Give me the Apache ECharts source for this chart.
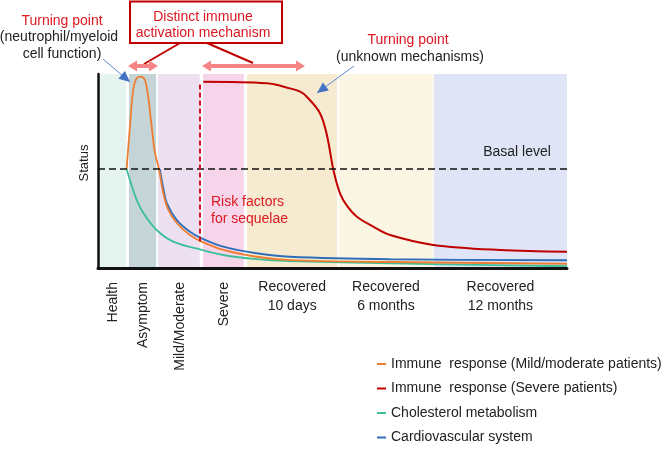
<!DOCTYPE html>
<html><head><meta charset="utf-8">
<script src="https://cdn.jsdelivr.net/npm/echarts@6.0.0/dist/echarts.min.js"></script>
<style>html,body{margin:0;padding:0;background:#fff}#c{width:661px;height:449px}</style>
</head><body><div id="c"></div>
<script>
// ---- data ----
const stageLabels = ['Health', 'Asymptom', 'Mild/Moderate', 'Severe', 'Recovered\n10 days', 'Recovered\n6 months', 'Recovered\n12 months'];
const stageStart = [0, 6.6, 12.8, 22.4, 31.8, 51.4, 71.6];
const stageEnd   = [6.0, 12.4, 21.7, 31.1, 51.0, 71.4, 100];
const basalLevel = 51;
const riskOnset = 21.8;
const seriesNames = ['Immune  response (Mild/moderate patients)', 'Immune  response (Severe patients)', 'Cholesterol metabolism', 'Cardiovascular system'];
const immuneMild = [[6.1,51],[6.8,72.7],[7.5,91.8],[8.25,97.9],[9.1,98.6],[10.0,96.9],[10.7,88.3],[11.45,72.8],[12.15,59.3],[13.0,51],[13.9,38.7],[15.0,29.9],[16.8,23.2],[19.6,17.0],[22.1,13.6],[26.7,9.3],[33.8,5.8],[40.9,4.1],[62.3,3.1],[100,2.2]];
const immuneSevere = [[22.45,96.0],[36.0,95.2],[40.9,92.6],[43.1,90.9],[44.5,88.3],[47.3,79.9],[48.8,68.6],[50.2,50.5],[51.6,38.5],[53.1,32.0],[55.2,26.4],[58.7,21.3],[62.3,17.0],[71.5,11.9],[85.7,9.3],[100,8.4]];
const cholesterol = [[6.1,51],[6.8,45.4],[8.25,35.1],[9.7,28.2],[12.5,19.6],[16.05,13.6],[22.1,9.3],[26.7,6.7],[33.8,4.6],[40.9,3.6],[62.3,2.4],[100,0.9]];
const cardiovascular = [[13.2,51],[14.0,40.2],[14.7,33.3],[16.8,24.7],[19.6,18.7],[22.1,15.3],[26.7,11.0],[33.8,7.6],[40.9,5.8],[62.3,4.5],[100,4.0]];

// ---- styles ----
const FONT = '"Liberation Sans", Arial, sans-serif';
const bandColors = ['#e5f4ef', '#c5d4d7', '#ede0f0', '#f6d5ea', '#f6ebd0', '#faf6e3', '#dfe4f6'];
const lineColors = ['#ed7d31', '#c00000', '#3cbf9b', '#2e6db8'];
const RED = '#dc1820';

const chart = echarts.init(document.getElementById('c'), null, {renderer: 'canvas'});

const bandAreas = stageStart.map((s, i) => [
  {xAxis: s, itemStyle: {color: bandColors[i]}},
  {xAxis: stageEnd[i]}
]);

function lineSeries(name, data, color, extra) {
  return Object.assign({
    name, type: 'line', data, smooth: 0.35, symbol: 'none', z: 3,
    lineStyle: {color, width: 1.8}, itemStyle: {color}
  }, extra || {});
}

chart.setOption({
  animation: false,
  grid: {left: 98, right: 94, top: 74, bottom: 181},
  xAxis: {type: 'value', min: 0, max: 100, z: 10, axisLine: {show: true, lineStyle: {color: '#111', width: 3}},
    axisTick: {show: false}, axisLabel: {show: false}, splitLine: {show: false}},
  yAxis: {type: 'value', min: 0, max: 100, z: 10, axisLine: {show: true, lineStyle: {color: '#111', width: 2.5}},
    axisTick: {show: false}, axisLabel: {show: false}, splitLine: {show: false}},
  legend: {
    orient: 'vertical', left: 377, top: 357, padding: 0, itemWidth: 9, itemHeight: 2, itemGap: 10.5, icon: 'rect',
    data: seriesNames, textStyle: {fontSize: 14, color: '#222', fontFamily: FONT}
  },
  series: [
    {name: 'bands', type: 'line', data: [], z: 1, silent: true,
      markArea: {silent: true, data: bandAreas, label: {show: false}},
      markLine: {silent: true, symbol: 'none', label: {show: false},
        lineStyle: {color: '#111', width: 1.5, type: [7, 4]},
        data: [[{coord: [0, basalLevel]}, {coord: [100, basalLevel]}]]}
    },
    lineSeries(seriesNames[2], cholesterol, lineColors[2]),
    lineSeries(seriesNames[3], cardiovascular, lineColors[3]),
    lineSeries(seriesNames[0], immuneMild, lineColors[0]),
    lineSeries(seriesNames[1], immuneSevere, lineColors[1], {
      lineStyle: {color: lineColors[1], width: 2},
      markLine: {silent: true, symbol: 'none', label: {show: false},
        lineStyle: {color: '#d01020', width: 2, type: [5, 3]},
        data: [[{coord: [riskOnset, 13.6]}, {coord: [riskOnset, immuneSevere[0][1]]}]]}
    })
  ]
});

// ---- annotations ----
function txt(text, x, y, opts) {
  opts = opts || {};
  return {type: 'text', x, y, rotation: opts.rotation || 0, z: 10,
    style: {text, fill: opts.color || '#222', font: (opts.size || 14) + 'px ' + FONT,
      align: opts.align || 'center', textAlign: opts.align || 'center',
      verticalAlign: opts.va || 'middle', textVerticalAlign: opts.va || 'middle',
      lineHeight: opts.lh || 19}};
}
function head(x1, y1, x2, y2, len, hw, color) {
  const a = Math.atan2(y2 - y1, x2 - x1);
  const bx = x2 - len * Math.cos(a), by = y2 - len * Math.sin(a);
  return {type: 'polygon', z: 10, shape: {points: [[x2, y2],
    [bx + hw * Math.sin(a), by - hw * Math.cos(a)], [bx - hw * Math.sin(a), by + hw * Math.cos(a)]]},
    style: {fill: color}};
}
function arrow(x1, y1, x2, y2, color) {
  return [{type: 'line', z: 10, shape: {x1, y1, x2, y2}, style: {stroke: '#5b8bd6', lineWidth: 1}},
    head(x1, y1, x2, y2, 11, 5, color)];
}
function dblArrow(x1, x2, y, color) {
  return [{type: 'line', z: 10, shape: {x1: x1 + 6, y1: y, x2: x2 - 6, y2: y}, style: {stroke: color, lineWidth: 4}},
    head(x2, y, x1, y, 9, 5.5, color), head(x1, y, x2, y, 9, 5.5, color)];
}

const g = [];
// stage labels beneath bands
stageLabels.forEach((lab, i) => {
  const p = chart.convertToPixel({gridIndex: 0}, [(stageStart[i] + stageEnd[i]) / 2, 0]);
  if (lab.indexOf('\n') >= 0) {
    g.push(txt(lab, p[0], p[1] + 10, {va: 'top', lh: 19}));
  } else {
    g.push(txt(lab, p[0] + 1, p[1] + 14, {rotation: Math.PI / 2, align: 'right'}));
  }
});
g.push(txt('Status', 84, 163, {rotation: Math.PI / 2, size: 13}));
// basal level
const bp = chart.convertToPixel({gridIndex: 0}, [0, basalLevel]);
g.push(txt('Basal level', 517, bp[1] - 17));
// risk factors
g.push(txt('Risk factors\nfor sequelae', 211, 211, {color: RED, align: 'left', lh: 17}));
// left turning point
g.push(txt('Turning point', 62, 21, {color: RED}));
g.push(txt('(neutrophil/myeloid', 59, 37));
g.push(txt('cell function)', 62, 54));
g.push(...arrow(103, 59, 130, 82, '#4472c4'));
// right turning point
g.push(txt('Turning point', 408, 40, {color: RED}));
g.push(txt('(unknown mechanisms)', 410, 57));
g.push(...arrow(354, 66, 317, 93, '#4472c4'));
// box
g.push({type: 'rect', z: 10, shape: {x: 130, y: 1.5, width: 152, height: 41.5}, style: {fill: '#fff', stroke: '#c00000', lineWidth: 2}});
g.push(txt('Distinct immune', 203, 17, {color: RED}));
g.push(txt('activation mechanism', 203, 33, {color: RED}));
g.push({type: 'line', z: 10, shape: {x1: 180, y1: 43, x2: 144, y2: 64}, style: {stroke: '#c00000', lineWidth: 2}});
g.push({type: 'line', z: 10, shape: {x1: 207, y1: 43, x2: 253, y2: 63}, style: {stroke: '#c00000', lineWidth: 2}});
g.push(...dblArrow(128, 158, 66, '#f78585'));
g.push(...dblArrow(202, 305, 66, '#f78585'));

chart.setOption({graphic: {elements: g}});
</script></body></html>
